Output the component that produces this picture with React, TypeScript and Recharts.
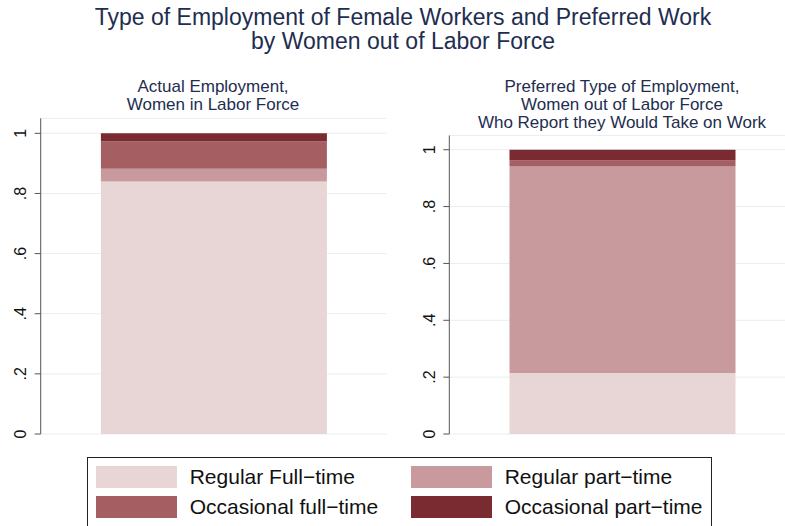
import React from 'react';
import { BarChart, Bar, XAxis, YAxis, CartesianGrid } from 'recharts';

const seriesKeys = ['regFull', 'regPart', 'occFull', 'occPart'];
const seriesNames = ['Regular Full\u2212time', 'Regular part\u2212time', 'Occasional full\u2212time', 'Occasional part\u2212time'];
const seriesColors = ['#e8d5d6', '#c99a9d', '#a55f62', '#7a2a31'];

const actualValues = [0.84, 0.042, 0.091, 0.027];
const preferredValues = [0.215, 0.726, 0.021, 0.038];

const yTicks = [0, 0.2, 0.4, 0.6, 0.8, 1];
const yTickLabels = ['0', '.2', '.4', '.6', '.8', '1'];

const titleLines = ['Type of Employment of Female Workers and Preferred Work', 'by Women out of Labor Force'];
const leftSubtitle = ['Actual Employment,', 'Women in Labor Force'];
const rightSubtitle = ['Preferred Type of Employment,', 'Women out of Labor Force', 'Who Report they Would Take on Work'];

const FONT = '"Liberation Sans", Arial, Helvetica, sans-serif';
const NAVY = '#1e2d50';

function buildRow(name: string, values: number[]) {
  const row: Record<string, any> = { name };
  seriesKeys.forEach((k, i) => {
    row[k] = values[i];
  });
  return [row];
}

const RotTick = (props: any) => {
  const { x, y, payload } = props;
  const idx = yTicks.indexOf(payload.value);
  const label = idx >= 0 ? yTickLabels[idx] : String(payload.value);
  return (
    <g transform={`translate(${x - 6.5},${y})`}>
      <text transform="rotate(-90)" textAnchor="middle" fill="#111" fontSize={16} fontFamily={FONT}>
        {label}
      </text>
    </g>
  );
};

function Panel(props: { values: number[]; name: string; left: number; top: number; axisW: number; plotW: number; width: number; height: number; bottom: number }) {
  const { values, name, left, top, axisW, plotW, width, height, bottom } = props;
  const data = buildRow(name, values);
  return (
    <div style={{ position: 'absolute', left, top: 0 }}>
      <BarChart
        width={width}
        height={height}
        data={data}
        margin={{ top, left: 0, right: width - axisW - plotW, bottom }}
        barCategoryGap="17.4%"
      >
        <CartesianGrid horizontal vertical={false} stroke="#e6eff0" strokeWidth={1} />
        <XAxis dataKey="name" hide />
        <YAxis
          width={axisW}
          domain={[0, 1.05]}
          ticks={yTicks}
          interval={0}
          tickSize={6}
          tickMargin={2}
          axisLine={{ stroke: '#555', strokeWidth: 1 }}
          tickLine={{ stroke: '#555', strokeWidth: 1 }}
          tick={<RotTick />}
          allowDataOverflow
        />
        {seriesKeys.map((k, i) => (
          <Bar key={k} dataKey={k} stackId="a" fill={seriesColors[i]} isAnimationActive={false} />
        ))}
      </BarChart>
    </div>
  );
}

function TextLines(props: { lines: string[]; cx: number; y0: number; pitch: number; size: number }) {
  const { lines, cx, y0, pitch, size } = props;
  return (
    <>
      {lines.map((t, i) => (
        <div
          key={i}
          style={{
            position: 'absolute',
            left: cx - 400,
            width: 800,
            top: y0 + i * pitch - pitch / 2,
            height: pitch,
            lineHeight: `${pitch}px`,
            textAlign: 'center',
            fontSize: size,
            fontFamily: FONT,
            color: NAVY,
            whiteSpace: 'nowrap',
          }}
        >
          {t}
        </div>
      ))}
    </>
  );
}

export default function App() {
  const legendPos = [
    { sx: 9.4, sy: 9.4, tx: 102.7 },
    { sx: 323.7, sy: 9.4, tx: 417.7 },
    { sx: 9.4, sy: 39, tx: 102.7 },
    { sx: 323.7, sy: 39, tx: 417.7 },
  ];
  return (
    <div style={{ position: 'absolute', left: 0, top: 0, width: 785, height: 526, overflow: 'hidden', background: '#fff' }}>
      <TextLines lines={titleLines} cx={403} y0={17} pitch={24} size={23} />
      <TextLines lines={leftSubtitle} cx={213} y0={86.5} pitch={18} size={17} />
      <TextLines lines={rightSubtitle} cx={622} y0={86.5} pitch={18} size={17} />
      <Panel values={actualValues} name="Actual" left={0} top={118.3} axisW={40.7} plotW={346} width={400} height={445} bottom={11} />
      <Panel values={preferredValues} name="Preferred" left={400} top={135.5} axisW={49.3} plotW={346} width={400} height={445} bottom={11} />
      <div
        style={{
          position: 'absolute',
          left: 87,
          top: 457,
          width: 625,
          height: 71,
          border: '1px solid #222',
          boxSizing: 'border-box',
        }}
      >
        {seriesKeys.map((k, i) => (
          <React.Fragment key={k}>
            <div
              style={{
                position: 'absolute',
                left: legendPos[i].sx - 1,
                top: legendPos[i].sy - 1,
                width: 81,
                height: 22,
                background: seriesColors[i],
              }}
            />
            <div
              style={{
                position: 'absolute',
                left: legendPos[i].tx - 1,
                top: legendPos[i].sy - 1,
                height: 22,
                lineHeight: '22px',
                fontSize: 21,
                fontFamily: FONT,
                color: '#111',
                whiteSpace: 'nowrap',
              }}
            >
              {seriesNames[i]}
            </div>
          </React.Fragment>
        ))}
      </div>
    </div>
  );
}
